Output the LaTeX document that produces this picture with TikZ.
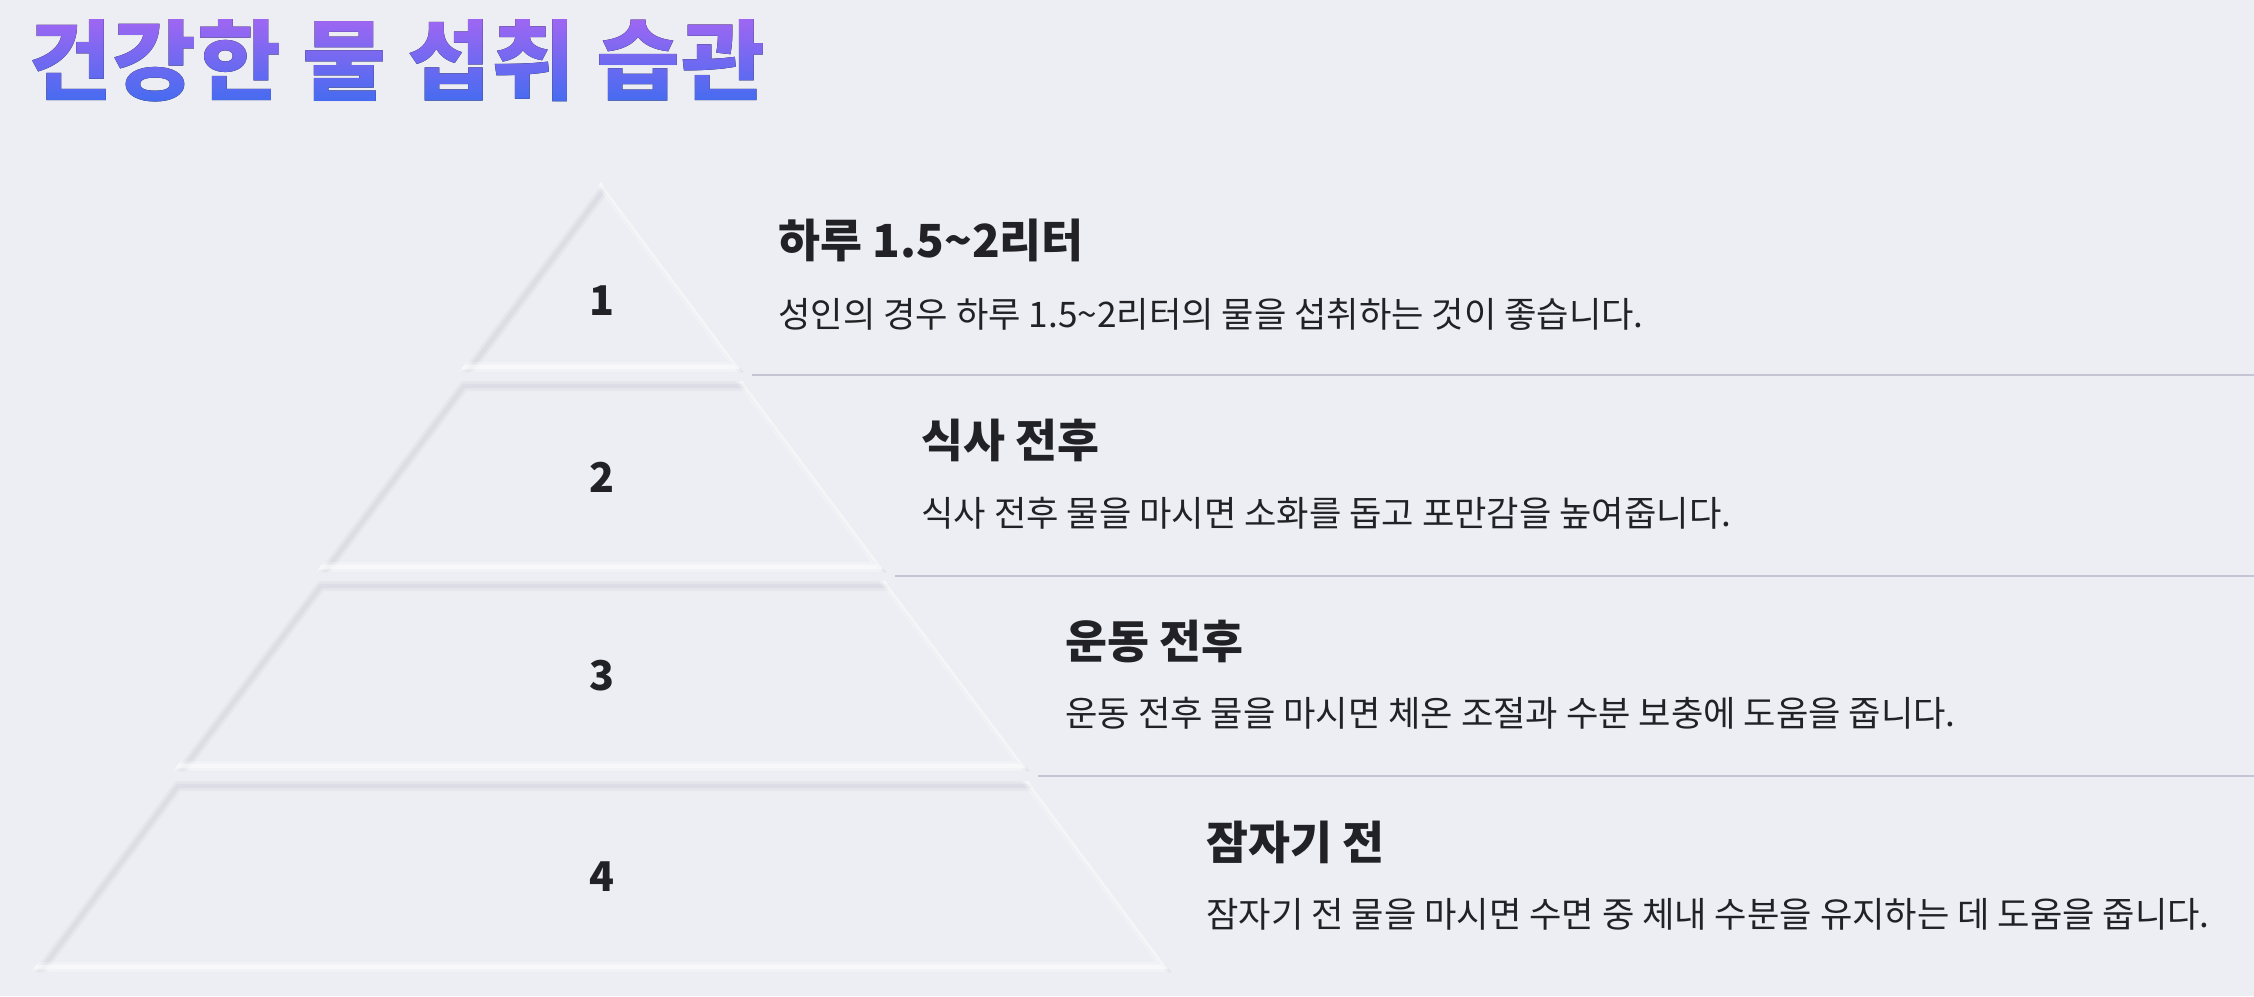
\documentclass[tikz,border=0pt]{standalone}
\usepackage{fontspec}
\setmainfont{Noto Sans CJK KR}
\newfontfamily\titlefont{Noto Sans CJK KR}[FakeStretch=1.04]
\usetikzlibrary{fadings}
\definecolor{bgc}{RGB}{237,238,243}
\definecolor{shadowc}{RGB}{205,207,216}
\definecolor{inkc}{RGB}{34,34,38}
\definecolor{sepc}{RGB}{196,196,210}
\definecolor{tpurple}{RGB}{166,102,242}
\definecolor{tblue}{RGB}{60,108,240}

\begin{tikzfadingfrompicture}[name=titlefade]
  \node[text=transparent!0, inner sep=0pt,
        font=\titlefont\bfseries\fontsize{44pt}{50pt}\selectfont] (tfade) at (0,0) {건강한 물 섭취 습관};
\end{tikzfadingfrompicture}

\newcommand\neulayer[1]{%
  \begin{scope}
    \clip #1;
    \fill[bgc] #1;
    \begin{scope}[shift={(5,5)}]
      \draw[shadowc, line width=5pt, opacity=0.2, line join=round] #1;
      \draw[shadowc, line width=2.4pt, opacity=0.35, line join=round] #1;
    \end{scope}
    \begin{scope}[shift={(-5,-5)}]
      \draw[white, line width=5pt, opacity=0.25, line join=round] #1;
      \draw[white, line width=2.4pt, opacity=0.5, line join=round] #1;
    \end{scope}
  \end{scope}}

\begin{document}
\begin{tikzpicture}[x=0.5pt, y=-0.5pt,
  num/.style={font=\bfseries\fontsize{20.5pt}{24pt}\selectfont, text=inkc, inner sep=0pt},
  head/.style={font=\bfseries\fontsize{22.8pt}{27pt}\selectfont, text=inkc, anchor=west, inner sep=0pt},
  desc/.style={font=\fontsize{17.6pt}{21pt}\selectfont, text=inkc, anchor=west, inner sep=0pt},
  sepline/.style={draw=sepc, line width=1.4pt}]
  \fill[bgc] (0,0) rectangle (2254,996);
  \useasboundingbox (0,0) rectangle (2254,996);

  % title with vertical gradient
  \fill[top color=tpurple, bottom color=tblue, path fading=titlefade, fit fading=false,
        fading transform={shift={(397,61)}}]
    (-3,12) rectangle (797,110);

  % pyramid layers
  \neulayer{(601,182) -- (743,372) -- (459,372) -- cycle}
  \neulayer{(459,381) -- (743,381) -- (886,572) -- (316,572) -- cycle}
  \neulayer{(316,581) -- (886,581) -- (1029,771) -- (173,771) -- cycle}
  \neulayer{(173,781) -- (1029,781) -- (1171,972) -- (31,972) -- cycle}

  % numbers
  \node[num] (n1) at (602,301) {1};
  \node[num] (n2) at (602,477) {2};
  \node[num] (n3) at (602,676) {3};
  \node[num] (n4) at (602,877) {4};

  % separators
  \coordinate (s1a) at (752,375);  \coordinate (s1b) at (2254,375);
  \coordinate (s2a) at (895,576);  \coordinate (s2b) at (2254,576);
  \coordinate (s3a) at (1038,776); \coordinate (s3b) at (2254,776);
  \draw[sepline] (s1a) -- (s1b);
  \draw[sepline] (s2a) -- (s2b);
  \draw[sepline] (s3a) -- (s3b);

  % texts
  \node[head] (h1) at (778,240) {하루 1.5\textasciitilde 2리터};
  \node[desc] (d1) at (778,314) {성인의 경우 하루 1.5\textasciitilde 2리터의 물을 섭취하는 것이 좋습니다.};
  \node[head] (h2) at (921,440) {식사 전후};
  \node[desc] (d2) at (921,513) {식사 전후 물을 마시면 소화를 돕고 포만감을 높여줍니다.};
  \node[head] (h3) at (1065,641) {운동 전후};
  \node[desc] (d3) at (1065,713) {운동 전후 물을 마시면 체온 조절과 수분 보충에 도움을 줍니다.};
  \node[head] (h4) at (1206,842) {잠자기 전};
  \node[desc] (d4) at (1206,914) {잠자기 전 물을 마시면 수면 중 체내 수분을 유지하는 데 도움을 줍니다.};
\end{tikzpicture}
\end{document}
